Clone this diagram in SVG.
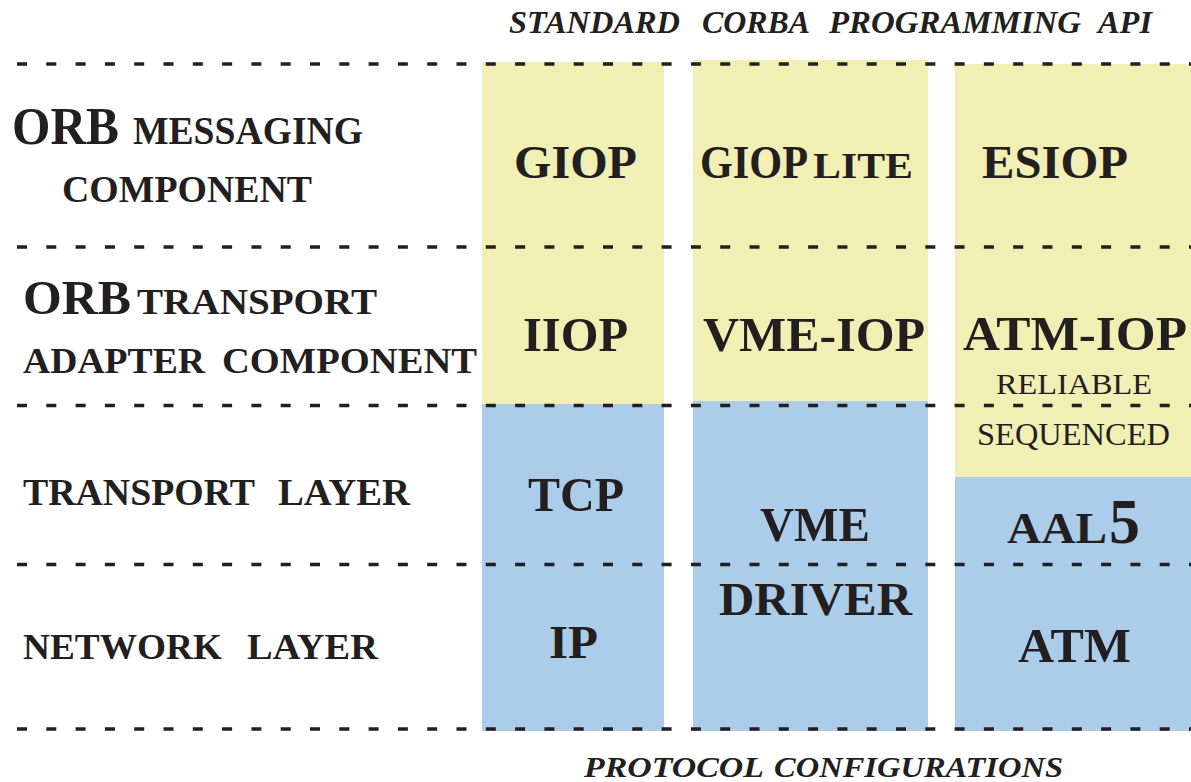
<svg xmlns="http://www.w3.org/2000/svg" width="1191" height="782" viewBox="0 0 1191 782">
<style>
.y{fill:#F1EFB4}
.b{fill:#ABCDEA}
.t{font-family:"Liberation Serif","Times New Roman",serif;font-weight:bold;fill:#231F20}
.r{font-family:"Liberation Serif","Times New Roman",serif;font-weight:normal;fill:#231F20}
.i{font-family:"Liberation Serif","Times New Roman",serif;font-weight:bold;font-style:italic;fill:#231F20}
.d{stroke:#231F20;stroke-width:3.5;stroke-dasharray:10 19.3;fill:none}
</style>
<rect width="1191" height="782" fill="#FFFFFF"/>
<g id="column-iiop">
<rect class="y" x="482" y="62" width="182" height="342"/>
<rect class="b" x="482" y="404" width="182" height="327"/>
</g>
<g id="column-vme">
<rect class="y" x="693" y="60" width="235" height="341"/>
<rect class="b" x="693" y="401" width="235" height="330"/>
</g>
<g id="column-atm">
<rect class="y" x="955" y="64" width="236" height="413"/>
<rect class="b" x="955" y="477" width="236" height="254"/>
</g>
<g id="connectors">
<line class="d" x1="17" y1="64" x2="1191" y2="64"/>
<line class="d" x1="17" y1="247" x2="1191" y2="247"/>
<line class="d" x1="17" y1="405.5" x2="1191" y2="405.5"/>
<line class="d" x1="17" y1="564.5" x2="1191" y2="564.5"/>
<line class="d" x1="17" y1="729" x2="1191" y2="729"/>
</g>
<g id="title-top">
<text class="i" y="33" font-size="31"><tspan x="509" textLength="171" lengthAdjust="spacingAndGlyphs">STANDARD</tspan><tspan x="702" textLength="108" lengthAdjust="spacingAndGlyphs">CORBA</tspan><tspan x="829" textLength="252" lengthAdjust="spacingAndGlyphs">PROGRAMMING</tspan><tspan x="1098" textLength="54" lengthAdjust="spacingAndGlyphs">API</tspan></text>
</g>
<g id="title-bottom">
<text class="i" y="777" font-size="30"><tspan x="584" textLength="180" lengthAdjust="spacingAndGlyphs">PROTOCOL</tspan><tspan x="774" textLength="289" lengthAdjust="spacingAndGlyphs">CONFIGURATIONS</tspan></text>
</g>
<g id="label-messaging">
<text class="t" y="143.5"><tspan x="12" font-size="53" textLength="107" lengthAdjust="spacingAndGlyphs">ORB</tspan><tspan x="133" font-size="39" textLength="230" lengthAdjust="spacingAndGlyphs">MESSAGING</tspan></text>
<text class="t" x="62" y="202" font-size="38" textLength="250" lengthAdjust="spacingAndGlyphs">COMPONENT</text>
</g>
<g id="label-transport-adapter">
<text class="t" y="313.5"><tspan x="23" font-size="48" textLength="108" lengthAdjust="spacingAndGlyphs">ORB</tspan><tspan x="137" font-size="35" textLength="240" lengthAdjust="spacingAndGlyphs">TRANSPORT</tspan></text>
<text class="t" y="373" font-size="35"><tspan x="23" textLength="182" lengthAdjust="spacingAndGlyphs">ADAPTER</tspan><tspan x="222" textLength="255" lengthAdjust="spacingAndGlyphs">COMPONENT</tspan></text>
</g>
<g id="label-transport-layer">
<text class="t" y="505" font-size="37"><tspan x="23" textLength="232" lengthAdjust="spacingAndGlyphs">TRANSPORT</tspan><tspan x="278" textLength="132" lengthAdjust="spacingAndGlyphs">LAYER</tspan></text>
</g>
<g id="label-network-layer">
<text class="t" y="659" font-size="36"><tspan x="23" textLength="199" lengthAdjust="spacingAndGlyphs">NETWORK</tspan><tspan x="247" textLength="131" lengthAdjust="spacingAndGlyphs">LAYER</tspan></text>
</g>
<g id="node-giop">
<text class="t" x="514" y="178" font-size="47" textLength="123" lengthAdjust="spacingAndGlyphs">GIOP</text>
</g>
<g id="node-gioplite">
<text class="t" y="178"><tspan x="700" font-size="47" textLength="108" lengthAdjust="spacingAndGlyphs">GIOP</tspan><tspan x="813" font-size="35" textLength="100" lengthAdjust="spacingAndGlyphs">LITE</tspan></text>
</g>
<g id="node-esiop">
<text class="t" x="982" y="178" font-size="47" textLength="146" lengthAdjust="spacingAndGlyphs">ESIOP</text>
</g>
<g id="node-iiop">
<text class="t" x="523" y="351" font-size="49" textLength="105" lengthAdjust="spacingAndGlyphs">IIOP</text>
</g>
<g id="node-vme-iop">
<text class="t" x="703" y="351" font-size="49" textLength="222" lengthAdjust="spacingAndGlyphs">VME-IOP</text>
</g>
<g id="node-atm-iop">
<text class="t" x="963" y="350" font-size="49" textLength="224" lengthAdjust="spacingAndGlyphs">ATM-IOP</text>
</g>
<g id="node-reliable-sequenced">
<text class="r" x="996" y="394" font-size="30" textLength="156" lengthAdjust="spacingAndGlyphs">RELIABLE</text>
<text class="r" x="977" y="445" font-size="31" textLength="193" lengthAdjust="spacingAndGlyphs">SEQUENCED</text>
</g>
<g id="node-tcp">
<text class="t" x="528" y="511" font-size="49" textLength="96" lengthAdjust="spacingAndGlyphs">TCP</text>
</g>
<g id="node-vme-driver">
<text class="t" x="760" y="541" font-size="49" textLength="110" lengthAdjust="spacingAndGlyphs">VME</text>
<text class="t" x="719" y="615" font-size="46" textLength="193" lengthAdjust="spacingAndGlyphs">DRIVER</text>
</g>
<g id="node-aal5">
<text class="t" y="543"><tspan x="1007" font-size="44" textLength="100" lengthAdjust="spacingAndGlyphs">AAL</tspan><tspan x="1109" font-size="64" textLength="31" lengthAdjust="spacingAndGlyphs">5</tspan></text>
</g>
<g id="node-ip">
<text class="t" x="549" y="658" font-size="47" textLength="49" lengthAdjust="spacingAndGlyphs">IP</text>
</g>
<g id="node-atm">
<text class="t" x="1018" y="662" font-size="48" textLength="113" lengthAdjust="spacingAndGlyphs">ATM</text>
</g>
</svg>
